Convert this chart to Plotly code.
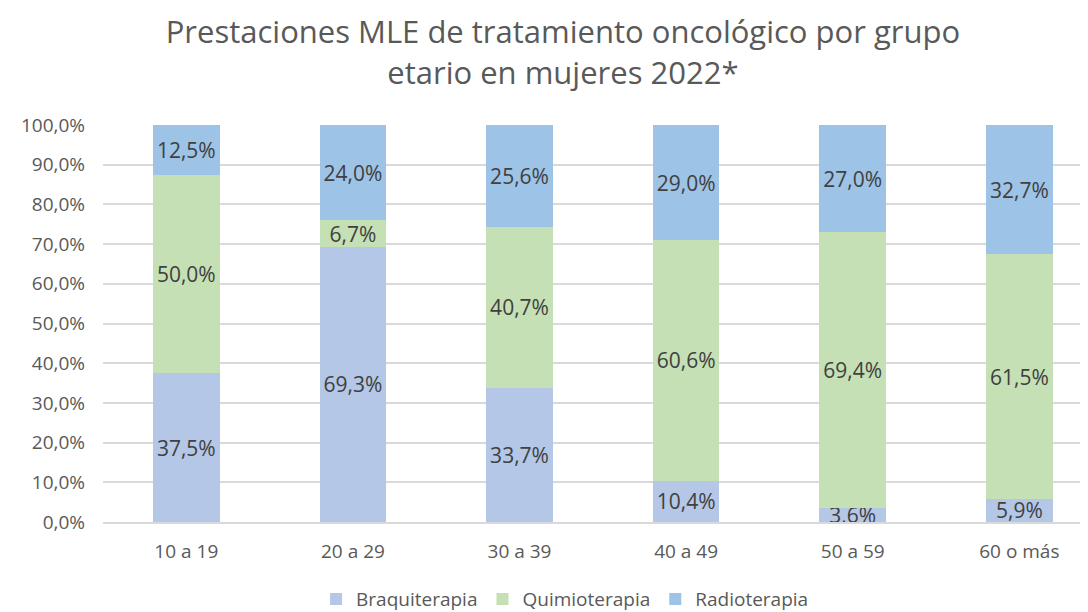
import plotly.graph_objects as go

grupos = ["10 a 19", "20 a 29", "30 a 39", "40 a 49", "50 a 59", "60 o más"]
braquiterapia = [37.5, 69.3, 33.7, 10.4, 3.6, 5.9]
quimioterapia = [50.0, 6.7, 40.7, 60.6, 69.4, 61.5]
radioterapia = [12.5, 24.0, 25.6, 29.0, 27.0, 32.7]

series = [
    ("Braquiterapia", braquiterapia, "#B4C7E7"),
    ("Quimioterapia", quimioterapia, "#C5E0B4"),
    ("Radioterapia", radioterapia, "#9DC3E6"),
]

fig = go.Figure()
for name, vals, color in series:
    fig.add_trace(go.Bar(
        x=grupos,
        y=[v / 100 for v in vals],
        name=name,
        marker=dict(color=color, line=dict(width=0)),
        texttemplate="%{y:.1%}",
        textposition="inside",
        insidetextanchor="middle",
        textfont=dict(color="#404040", size=21),
        constraintext="none",
    ))

# the page body has an 8px margin, so the layout is shifted up/left by 8px
fig.update_layout(
    barmode="stack",
    bargap=0.6,
    separators=",.",
    width=1088,
    height=612,
    margin=dict(l=95, r=0, t=117, b=98, autoexpand=False),
    paper_bgcolor="white",
    plot_bgcolor="white",
    font=dict(family="Open Sans, Noto Sans, sans-serif", color="#595959"),
    title=dict(
        text="Prestaciones MLE de tratamiento oncológico por grupo<br>etario en mujeres 2022*",
        x=0.51, xanchor="center",
        y=0.942, yanchor="middle",
        font=dict(size=31, color="#595959"),
    ),
    legend=dict(
        orientation="h",
        xref="container",
        x=0.512, xanchor="center",
        yref="container",
        y=0.034, yanchor="middle",
        font=dict(size=19, color="#595959"),
        traceorder="normal",
        itemwidth=30,
    ),
    uniformtext=dict(mode="show", minsize=21),
)

fig.update_yaxes(
    range=[0, 1],
    dtick=0.1,
    tickformat=".1%",
    gridcolor="#D9D9D9",
    gridwidth=1.5,
    tickfont=dict(size=19, color="#595959"),
    ticks="",
    ticklabelstandoff=17,
    zeroline=False,
    automargin=False,
)
fig.update_xaxes(
    range=[-0.5, 5.46],
    tickfont=dict(size=19, color="#595959"),
    showline=True,
    linecolor="#D9D9D9",
    linewidth=1.5,
    ticks="",
    ticklabelstandoff=11,
    automargin=False,
)

fig.write_html("out.html")
